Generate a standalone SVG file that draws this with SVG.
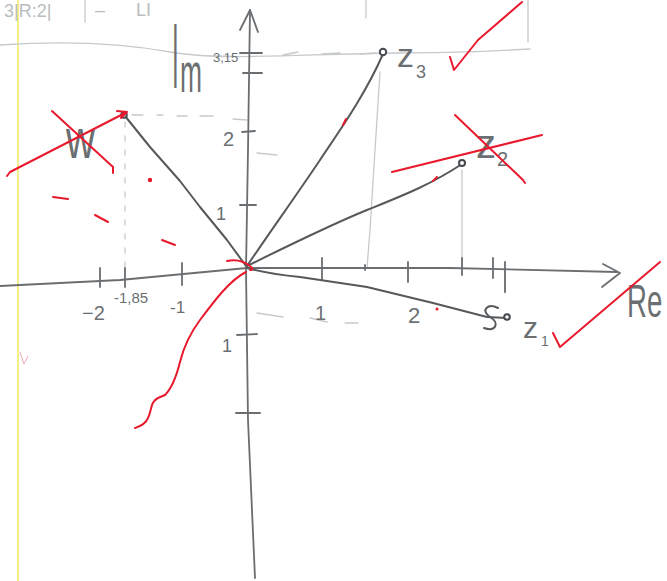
<svg xmlns="http://www.w3.org/2000/svg" width="667" height="581" viewBox="0 0 667 581">
<style>
.pen{fill:none;stroke:#55595c;stroke-width:2;stroke-linecap:round;stroke-linejoin:round}
.axis{fill:none;stroke:#6a6e71;stroke-width:1.8;stroke-linecap:round;stroke-linejoin:round}
.faint{fill:none;stroke:#c6cacd;stroke-width:1.3;stroke-linecap:round}
.red{fill:none;stroke:#e8192c;stroke-width:2;stroke-linecap:round;stroke-linejoin:round}
.lbl{font-family:"Liberation Sans",sans-serif;fill:#6b6f72}
.hdr{font-family:"Liberation Sans",sans-serif;fill:#b9bdc0}
.pt{fill:#fff;stroke:#45494c;stroke-width:2}
</style>
<rect width="667" height="581" fill="#ffffff"/>

<g id="paper">
  <line x1="18" y1="0" x2="18" y2="581" stroke="#f2e85e" stroke-width="1.5"/>
  <path class="faint" d="M0,45 C60,41 120,43 170,52 S300,54 400,53 S500,50 530,49"/>
  <path class="faint" d="M85,0 V22 M366,0 V18 M528,0 V42"/>
  <text class="hdr" x="4" y="17" font-size="18">3|R:2|</text>
  <text class="hdr" x="95" y="16" font-size="18">–</text>
  <text class="hdr" x="136" y="16" font-size="18">LI</text>
  <path d="M20,352 L24,364 L28,356" fill="none" stroke="#f3a9b2" stroke-width="1"/>
</g>

<g id="guides">
  <path class="faint" d="M125,122 V268" stroke="#8a8e91" stroke-dasharray="5 9" stroke-width="1.6"/>
  <path class="faint" d="M132,115 L143,115 M157,115 L163,115 M177,116 L187,116 M200,116 L213,116 M233,119 L247,120"/>
  <path class="faint" d="M283,55 L298,52 M322,54 L340,53 M360,54 L376,53"/>
  <path class="faint" d="M380,72 L375,150 L370,230 L367,268"/>
  <path class="faint" d="M462,170 V268"/>
  <path class="faint" d="M505,262 V293"/>
  <path class="faint" d="M257,313 L283,317 M310,318 L327,322 M345,323 L358,323"/>
  <path class="faint" d="M257,153 L277,155"/>
</g>

<g id="axes">
  <path class="axis" d="M0,286 L120,280 L247,268 L450,268 L617,272"/>
  <path class="axis" d="M603,264 L620,273 L602,287"/>
  <path class="axis" d="M250,10 L248,150 L246,270 L248,420 L255,578"/>
  <path class="axis" d="M240,30 L250,10 L258,32"/>
  <path class="axis" stroke-width="1.5" d="M100,268 V287 M125,268 V287 M182,263 V285 M322,258 V280 M365,265 V270 M408,262 V282 M462,258 V275 M493,258 V278 M505,262 V292"/>
  <path class="axis" stroke-width="1.5" d="M240,53 L262,53 M243,73 L262,73 M242,132 L255,131 M240,205 L256,205 M237,335 L257,334 M236,413 L260,413"/>
</g>

<g id="labels">
  <text class="lbl" transform="translate(172,88) scale(1,3.9)" font-size="24">I</text>
  <text class="lbl" transform="translate(180,92) scale(1.1,2.3)" font-size="24">m</text>
  <text class="lbl" x="213" y="62" font-size="13">3,15</text>
  <text class="lbl" x="223" y="146" font-size="20">2</text>
  <text class="lbl" x="216" y="220" font-size="18">1</text>
  <text class="lbl" x="222" y="352" font-size="18">1</text>
  <text class="lbl" x="82" y="320" font-size="20">−2</text>
  <text class="lbl" x="114" y="303" font-size="15">-1,85</text>
  <text class="lbl" x="170" y="313" font-size="17">-1</text>
  <text class="lbl" x="315" y="320" font-size="20">1</text>
  <text class="lbl" x="408" y="323" font-size="22">2</text>
  <text class="lbl" transform="translate(627,317) scale(0.6,1)" font-size="46">Re</text>
</g>

<g id="connectors">
  <path class="pen" d="M246,266 L227,240 L200,207 L180,181 L150,147 L125,116"/>
  <path class="pen" d="M247,266 C270,232 300,190 320,160 S365,95 383,54"/>
  <path class="pen" d="M247,266 C300,240 330,225 367,210 S430,185 462,164"/>
  <path class="pen" d="M247,268 Q270,274 300,277 L367,287 L433,303 L487,317 L507,318"/>
  <path class="pen" stroke-width="1.8" d="M498,308 C488,303 480,310 490,317 C500,323 496,332 484,328"/>
</g>

<g id="z4">
  <circle class="pt" cx="124" cy="115" r="2.8"/>
  <text class="lbl" transform="translate(66,158) scale(1,1.4)" font-size="40">w</text>
  <path class="red" d="M52,111 L113,167 L113,173"/>
  <path class="red" d="M7,176 L10,172 L127,112 M117,111 L127,112 L121,118"/>
</g>

<g id="z3">
  <circle class="pt" cx="383" cy="52" r="3.2"/>
  <text class="lbl" x="397" y="67" font-size="34">z</text>
  <text class="lbl" x="416" y="78" font-size="18">3</text>
  <path class="red" d="M450,57 L454,70 L478,40 L522,2"/>
</g>

<g id="z2">
  <circle class="pt" cx="462" cy="163" r="3"/>
  <text class="lbl" x="476" y="158" font-size="40">z</text>
  <text class="lbl" x="497" y="166" font-size="20">2</text>
  <path class="red" d="M455,115 L523,180 L525,183"/>
  <path class="red" d="M392,172 L542,135"/>
</g>

<g id="z1">
  <circle class="pt" cx="507" cy="317" r="2.8"/>
  <text class="lbl" x="523" y="338" font-size="30">z</text>
  <text class="lbl" x="541" y="346" font-size="14">1</text>
  <path class="red" d="M553,333 L560,347 L660,262"/>
</g>

<g id="red-marks">
  <circle cx="150" cy="180" r="2.2" fill="#e8192c"/>
  <circle cx="437" cy="309" r="1.5" fill="#e8192c"/>
  <path class="red" stroke-width="1.6" d="M53,197 L68,199 M95,215 L108,222 M162,240 L175,245"/>
  <path class="red" stroke-width="1.6" d="M227,261 Q240,258 250,266 Q255,270 250,270"/>
  <path class="red" stroke-width="2.5" d="M343,125 L346,119 M433,181 L437,177"/>
  <path class="red" stroke-width="1.6" d="M246,272 C230,280 215,300 200,320 C188,336 183,350 180,362 C176,378 172,388 165,395"/>
  <path class="red" stroke-width="3" d="M165,395 L158,398 C150,402 152,410 148,418 C146,424 140,426 135,428"/>
</g>
</svg>
